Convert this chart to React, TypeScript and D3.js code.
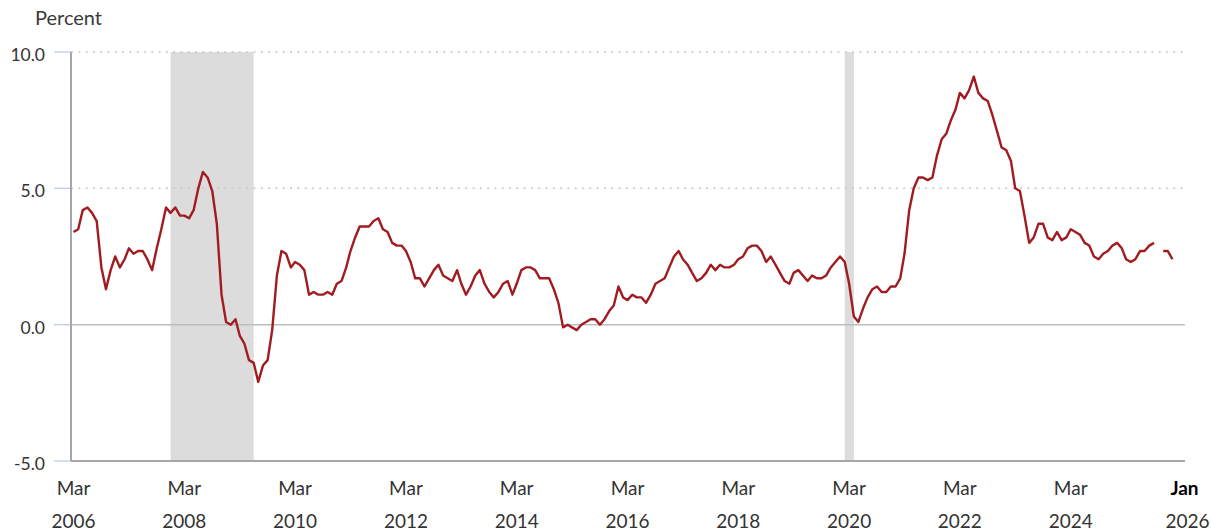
import React from "react";
import * as d3 from "d3";

const startYear = 2006;
const startMonth = 2; // March (0-based)
const cpiValues: (number | null)[] = [
  // 2006 Mar-Dec
  3.4, 3.5, 4.2, 4.3, 4.1, 3.8, 2.1, 1.3, 2.0, 2.5,
  // 2007
  2.1, 2.4, 2.8, 2.6, 2.7, 2.7, 2.4, 2.0, 2.8, 3.5, 4.3, 4.1,
  // 2008
  4.3, 4.0, 4.0, 3.9, 4.2, 5.0, 5.6, 5.4, 4.9, 3.7, 1.1, 0.1,
  // 2009
  0.0, 0.2, -0.4, -0.7, -1.3, -1.4, -2.1, -1.5, -1.3, -0.2, 1.8, 2.7,
  // 2010
  2.6, 2.1, 2.3, 2.2, 2.0, 1.1, 1.2, 1.1, 1.1, 1.2, 1.1, 1.5,
  // 2011
  1.6, 2.1, 2.7, 3.2, 3.6, 3.6, 3.6, 3.8, 3.9, 3.5, 3.4, 3.0,
  // 2012
  2.9, 2.9, 2.7, 2.3, 1.7, 1.7, 1.4, 1.7, 2.0, 2.2, 1.8, 1.7,
  // 2013
  1.6, 2.0, 1.5, 1.1, 1.4, 1.8, 2.0, 1.5, 1.2, 1.0, 1.2, 1.5,
  // 2014
  1.6, 1.1, 1.5, 2.0, 2.1, 2.1, 2.0, 1.7, 1.7, 1.7, 1.3, 0.8,
  // 2015
  -0.1, 0.0, -0.1, -0.2, 0.0, 0.1, 0.2, 0.2, 0.0, 0.2, 0.5, 0.7,
  // 2016
  1.4, 1.0, 0.9, 1.1, 1.0, 1.0, 0.8, 1.1, 1.5, 1.6, 1.7, 2.1,
  // 2017
  2.5, 2.7, 2.4, 2.2, 1.9, 1.6, 1.7, 1.9, 2.2, 2.0, 2.2, 2.1,
  // 2018
  2.1, 2.2, 2.4, 2.5, 2.8, 2.9, 2.9, 2.7, 2.3, 2.5, 2.2, 1.9,
  // 2019
  1.6, 1.5, 1.9, 2.0, 1.8, 1.6, 1.8, 1.7, 1.7, 1.8, 2.1, 2.3,
  // 2020
  2.5, 2.3, 1.5, 0.3, 0.1, 0.6, 1.0, 1.3, 1.4, 1.2, 1.2, 1.4,
  // 2021
  1.4, 1.7, 2.6, 4.2, 5.0, 5.4, 5.4, 5.3, 5.4, 6.2, 6.8, 7.0,
  // 2022
  7.5, 7.9, 8.5, 8.3, 8.6, 9.1, 8.5, 8.3, 8.2, 7.7, 7.1, 6.5,
  // 2023
  6.4, 6.0, 5.0, 4.9, 4.0, 3.0, 3.2, 3.7, 3.7, 3.2, 3.1, 3.4,
  // 2024
  3.1, 3.2, 3.5, 3.4, 3.3, 3.0, 2.9, 2.5, 2.4, 2.6, 2.7, 2.9,
  // 2025
  3.0, 2.8, 2.4, 2.3, 2.4, 2.7, 2.7, 2.9, 3.0, null, 2.7, 2.7,
  // 2026
  2.4,
];

const recessions: [string, string][] = [
  ["2007-12-01", "2009-06-01"],
  ["2020-02-01", "2020-04-01"],
];

const yTicks = [10, 5, 0, -5];
const xTickDates = [
  "2006-03-01", "2008-03-01", "2010-03-01", "2012-03-01", "2014-03-01",
  "2016-03-01", "2018-03-01", "2020-03-01", "2022-03-01", "2024-03-01", "2026-01-01",
];

const parse = d3.timeParse("%Y-%m-%d");

interface Pt { date: Date; value: number | null }
const data: Pt[] = cpiValues.map((v, i) => ({
  date: new Date(startYear, startMonth + i, 1),
  value: v,
}));

const W = 1211;
const H = 531;
const FONT = "Lato, 'Open Sans', sans-serif";

export default function App() {
  const x = d3
    .scaleTime()
    .domain([new Date(2006, 2, 1), new Date(2026, 0, 1)])
    .range([73.5, 1172.5]);
  const y = d3.scaleLinear().domain([-5, 10]).range([461, 52]);

  const line = d3
    .line<Pt>()
    .defined((d) => d.value !== null)
    .x((d) => x(d.date))
    .y((d) => y(d.value as number))
    .curve(d3.curveLinear);

  const left = 71;
  const right = 1185;
  const fmt = (v: number) => v.toFixed(1);
  const monthFmt = d3.timeFormat("%b");
  const yearFmt = d3.timeFormat("%Y");

  return (
    <svg
      width={W}
      height={H}
      style={{ position: "absolute", left: 0, top: 0, background: "#fff" }}
      fontFamily={FONT}
    >
      <text x={35} y={25} fontSize={20} fill="#3a3a3a">Percent</text>

      {recessions.map(([a, b], i) => {
        const xa = x(parse(a) as Date);
        const xb = x(parse(b) as Date);
        return (
          <rect key={i} x={xa} y={y(10)} width={xb - xa} height={y(-5) - y(10)} fill="#dcdcdc" />
        );
      })}

      {yTicks.map((t) => (
        <g key={t}>
          {t > 0 && (
            <line x1={left} x2={right} y1={y(t)} y2={y(t)} stroke="#c8c8c8" strokeWidth={1.5} strokeDasharray="2,5.3" />
          )}
          {t === 0 && (
            <line x1={left} x2={right} y1={y(t)} y2={y(t)} stroke="#bdbdbd" strokeWidth={1.5} />
          )}
          <line x1={54} x2={left} y1={y(t)} y2={y(t)} stroke="#c5d3ea" strokeWidth={1.5} />
          <text x={45} y={y(t) + 9} textAnchor="end" fontSize={17.5} fill="#333">
            {fmt(t)}
          </text>
        </g>
      ))}

      <line x1={left} x2={left} y1={y(10)} y2={y(-5)} stroke="#a6a6a6" strokeWidth={2} />
      <line x1={left} x2={right} y1={y(-5)} y2={y(-5)} stroke="#a6a6a6" strokeWidth={2} />

      <path d={line(data) || ""} fill="none" stroke="#a01c20" strokeWidth={2.4} strokeLinejoin="round" />

      {xTickDates.map((s, i) => {
        const d = parse(s) as Date;
        const last = i === xTickDates.length - 1;
        const cx = x(d) + (last ? 12 : 0);
        return (
          <g key={s}>
            <text x={cx} y={495} textAnchor="middle" fontSize={19} fill={last ? "#000" : "#333"} fontWeight={last ? "bold" : "normal"}>
              {monthFmt(d)}
            </text>
            <text x={cx + (last ? 3 : 0)} y={528} textAnchor="middle" fontSize={19} fill="#333">
              {yearFmt(d)}
            </text>
          </g>
        );
      })}
    </svg>
  );
}
